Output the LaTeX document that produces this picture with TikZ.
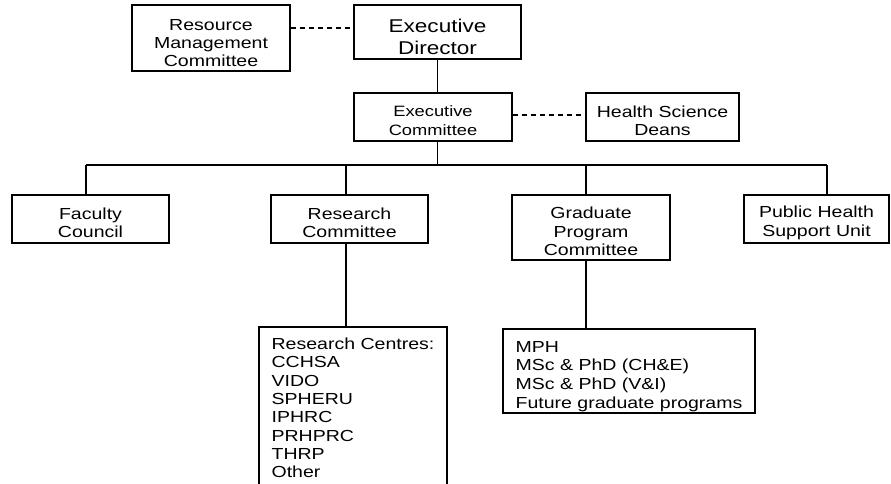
\documentclass[tikz,border=0pt]{standalone}
\usepackage{fontspec}
\setmainfont{Liberation Sans}[FakeStretch=1.22]
\begin{document}
\begin{tikzpicture}[x=1pt,y=-1pt,
  box/.style={draw, line width=1.2pt, inner sep=0pt, align=center,
    font=\fontsize{16}{18.3}\selectfont,
    execute at begin node={\rule{0pt}{1.05em}}},
  listbox/.style={draw, line width=1.2pt, inner sep=0pt, align=left,
    font=\fontsize{16}{18.3}\selectfont},
  conn/.style={line width=1.2pt},
  dconn/.style={line width=1.2pt, dash pattern=on 5pt off 4pt}]
\clip (0,0) rectangle (891,484);
\fill[white] (0,0) rectangle (891,484);
% top level
\node[box, minimum width=158pt, minimum height=66pt, font=\fontsize{16}{18}\selectfont] (rmc) at (211,38) {\rule{0pt}{1.3em}Resource\\Management\\Committee};
\node[box, minimum width=167pt, minimum height=54pt, font=\fontsize{18.5}{22}\selectfont] (ed) at (437.5,32) {\rule{0pt}{1.2em}Executive\\Director};
\node[box, minimum width=158pt, minimum height=48pt, font=\fontsize{15}{18.3}\selectfont] (ec) at (433,117) {\rule{0pt}{1.2em}Executive\\Committee};
\node[box, minimum width=153pt, minimum height=48pt] (hsd) at (662.5,117) {\rule{0pt}{1.2em}Health Science\\Deans};
% second level
\node[box, minimum width=157pt, minimum height=48pt] (fc) at (90.5,219) {\rule{0pt}{1.2em}Faculty\\Council};
\node[box, minimum width=157pt, minimum height=48pt] (rc) at (349.5,219) {\rule{0pt}{1.2em}Research\\Committee};
\node[box, minimum width=158pt, minimum height=65pt] (gpc) at (591,227.5) {\rule{0pt}{1.2em}Graduate\\Program\\Committee};
\node[box, minimum width=145pt, minimum height=48pt] (phsu) at (816.5,219) {\rule{0pt}{1.2em}Public Health\\Support Unit};
% third level
\node[listbox, minimum width=188pt, minimum height=162pt] (rcen) at (353,408) {Research Centres:\\CCHSA\\VIDO\\SPHERU\\IPHRC\\PRHPRC\\THRP\\Other};
\node[listbox, minimum width=252pt, minimum height=84pt, font=\fontsize{16}{18.6}\selectfont] (mph) at (629,371) {\rule{0pt}{1.35em}MPH\\MSc \& PhD (CH\&E)\\MSc \& PhD (V\&I)\\Future graduate programs};
% coordinates
\coordinate (d1) at (0,28);
\coordinate (d2) at (0,115);
\coordinate (b1) at (86,165);
\coordinate (b2) at (346,165);
\coordinate (b3) at (586,165);
\coordinate (b4) at (827,165);
% connectors
\draw[dconn] (rmc.east |- d1) -- (ed.west |- d1);
\draw[dconn] (ec.east |- d2) -- (hsd.west |- d2);
\draw[conn] (ed.south) -- (ed.south |- ec.north);
\draw[conn] (ed.south |- ec.south) -- (ed.south |- b1);
\draw[conn] (b1) -- (b4);
\draw[conn] (b1) -- (b1 |- fc.north);
\draw[conn] (b2) -- (b2 |- rc.north);
\draw[conn] (b3) -- (b3 |- gpc.north);
\draw[conn] (b4) -- (b4 |- phsu.north);
\draw[conn] (b2 |- rc.south) -- (b2 |- rcen.north);
\draw[conn] (b3 |- gpc.south) -- (b3 |- mph.north);
\end{tikzpicture}
\end{document}
